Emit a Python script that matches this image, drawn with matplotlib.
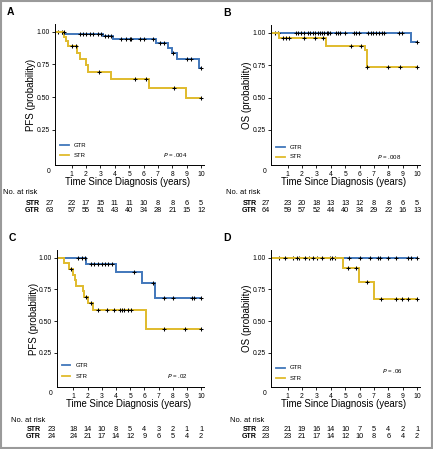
'''Kaplan-Meier curves for GTR vs STR, four panels with numbers at risk'''

import numpy as np
import matplotlib
matplotlib.use('Agg')
import matplotlib.pyplot as plt
from matplotlib.transforms import blended_transform_factory
from matplotlib.patches import Rectangle

plt.rcParams['font.family'] = ['Liberation Sans', 'DejaVu Sans']

blue = '#4177bb'
gold = '#e0bb2c'

# event times and survival after each step, censor times
A_gtr_t = [0, 0.4, 3.2, 3.9, 6.9, 7.7, 7.95, 8.35, 9.85]
A_gtr_s = [1.0, 0.985, 0.97, 0.944, 0.913, 0.875, 0.837, 0.79, 0.726]
A_gtr_c = [0.05, 0.35, 1.56, 1.79, 1.97, 2.25, 2.48, 2.83, 3.06, 3.29, 3.52, 3.75, 4.45, 4.8, 5.03, 5.14, 5.72, 6.02, 6.65, 7.11, 7.41, 8.08, 9.0, 9.31, 10.0]
A_str_t = [0, 0.5, 0.6, 0.75, 1.4, 1.6, 1.97, 2.13, 3.71, 6.37, 8.92]
A_str_s = [1.0, 0.963, 0.926, 0.889, 0.837, 0.795, 0.745, 0.695, 0.64, 0.572, 0.495]
A_str_c = [0.45, 1.0, 1.3, 2.94, 5.44, 6.19, 8.1, 10.0]

B_gtr_t = [0, 9.6]
B_gtr_s = [1.0, 0.932]
B_gtr_c = [0.14, 0.32, 1.57, 1.73, 1.91, 2.14, 2.41, 2.59, 2.77, 2.93, 3.09, 3.27, 3.38, 3.54, 3.72, 3.83, 3.95, 4.35, 4.52, 4.67, 4.97, 5.65, 5.76, 5.94, 6.56, 6.78, 6.94, 7.12, 7.35, 7.53, 7.69, 8.71, 8.94, 10.0]
B_str_t = [0, 0.43, 3.67, 6.35, 6.5]
B_str_s = [1.0, 0.963, 0.9, 0.87, 0.735]
B_str_c = [0.66, 0.88, 1.11, 2.14, 2.93, 3.45, 5.42, 6.1, 6.55, 8.0, 8.8, 10.0]

C_gtr_t = [0, 1.92, 3.98, 5.8, 6.78]
C_gtr_s = [1.0, 0.953, 0.883, 0.8, 0.684]
C_gtr_c = [1.34, 1.62, 1.8, 2.26, 2.49, 2.77, 3.0, 3.23, 3.46, 3.73, 5.25, 6.62, 7.36, 8.05, 9.35, 9.49, 10.0]
C_str_t = [0, 0.36, 0.7, 0.98, 1.11, 1.2, 1.67, 1.74, 2.0, 2.35, 6.1]
C_str_s = [1.0, 0.955, 0.91, 0.864, 0.82, 0.775, 0.736, 0.69, 0.645, 0.587, 0.436]
C_str_c = [0.86, 1.9, 2.26, 2.77, 3.39, 3.87, 4.31, 4.44, 4.56, 4.88, 5.06, 7.4, 8.85, 10.0]

D_gtr_t = [0]
D_gtr_s = [1.0]
D_gtr_c = [0.39, 1.37, 1.82, 2.51, 3.08, 3.92, 4.33, 5.3, 6.0, 6.7, 7.27, 7.39, 7.96, 8.55, 9.4, 9.55, 10.0]
D_str_t = [0, 4.88, 5.93, 7.0]
D_str_s = [1.0, 0.917, 0.806, 0.672]
D_str_c = [0.84, 1.64, 2.21, 2.78, 3.42, 4.1, 5.18, 5.75, 6.5, 7.46, 8.53, 8.98, 9.35, 10.0]

# numbers at risk at years 0..10
A_str_risk = [27, 22, 17, 15, 11, 11, 10, 8, 8, 6, 5]
A_gtr_risk = [63, 57, 55, 51, 43, 40, 34, 28, 21, 15, 12]
B_str_risk = [27, 23, 20, 18, 13, 13, 12, 8, 8, 6, 5]
B_gtr_risk = [64, 59, 57, 52, 44, 40, 34, 29, 22, 16, 13]
C_str_risk = [23, 18, 14, 10, 8, 5, 4, 3, 2, 1, 1]
C_gtr_risk = [24, 24, 21, 17, 14, 12, 9, 6, 5, 4, 2]
D_str_risk = [23, 21, 19, 16, 14, 10, 7, 5, 4, 2, 1]
D_gtr_risk = [23, 23, 21, 17, 14, 12, 10, 8, 6, 4, 2]

W, H = 433., 449.
fig = plt.figure(figsize=(W / 100, H / 100), dpi=100)

def fy(py):
	''' converts a pixel row (from top) to figure fraction '''
	return 1 - py / H

def km(ax, t, s, cens, color, z):
	''' draws one step curve with its censor marks '''
	end = max(cens)
	x = list(t) + [end]
	y = list(s) + [s[-1]]
	ax.plot(x, y, drawstyle='steps-post', color=color, lw=1.4, zorder=z, solid_joinstyle='miter')
	idx = np.searchsorted(t, cens, side='right') - 1
	cy = np.array(s)[idx]
	ax.plot(cens, cy, ls='none', marker='+', ms=3.4, mew=0.75, color='black', zorder=z + 1)

def panel(box, letter, ylab, curves, pval, pxy, legy, risk, riskbox):
	''' box is (left, top, right, bottom) in pixels '''
	l, t, r, b = box
	ax = fig.add_axes([l / W, fy(b), (r - l) / W, (b - t) / H])
	(gt, gs, gc), (st, ss, sc) = curves
	km(ax, gt, gs, gc, blue, 3)
	km(ax, st, ss, sc, gold, 5)
	ax.set_xlim(-0.15, 10.2)
	ax.set_ylim(-0.02, 1.06)
	ax.set_xticks(range(1, 11))
	ax.set_yticks([0.25, 0.5, 0.75, 1.0])
	ax.set_yticklabels(['0.25', '0.50', '0.75', '1.00'])
	ax.tick_params(labelsize=4.9, length=2, width=0.6, pad=2)
	for sp in ['top', 'right']:
		ax.spines[sp].set_visible(False)
	for sp in ['left', 'bottom']:
		ax.spines[sp].set_linewidth(0.7)
	ax.text(-0.6, -0.02, '0', fontsize=4.9, ha='center', va='top', transform=blended_transform_factory(ax.transData, ax.transAxes))
	ax.set_ylabel(ylab, fontsize=7)
	ax.yaxis.set_label_coords(-0.125, 0.5)
	ax.set_xlabel('Time Since Diagnosis (years)', fontsize=6.9)
	ax.xaxis.set_label_coords(0.49, -0.085)
	# legend drawn by hand
	for yy, col, name in [(legy[0], blue, 'GTR'), (legy[1], gold, 'STR')]:
		ax.plot([0.2, 0.8], [yy, yy], color=col, lw=1.3)
		ax.text(1.15, yy, name, fontsize=4.3, va='center')
	ax.text(pxy[0], pxy[1], '$P$ = ' + pval, fontsize=4.4, ha='right', va='center')
	fig.text((l - 48) / W, fy(t - 12), letter, fontsize=7.5, fontweight='bold', va='center')
	# numbers at risk
	nx, labx, y0, y1, y2 = riskbox
	trans = blended_transform_factory(ax.transData, fig.transFigure)
	fig.text(nx / W, fy(y0), 'No. at risk', fontsize=5.4, va='center')
	xs = [-0.5] + list(range(1, 11))
	for yy, name, vals in [(y1, 'STR', risk[0]), (y2, 'GTR', risk[1])]:
		fig.text(labx / W, fy(yy), name, fontsize=5.1, fontweight='bold', ha='right', va='center')
		for x, v in zip(xs, vals):
			ax.text(x, fy(yy), str(v), fontsize=5.3, ha='center', va='center', transform=trans)
	return ax

panel((55, 24, 204, 165), 'A', 'PFS (probability)',
	((A_gtr_t, A_gtr_s, A_gtr_c), (A_str_t, A_str_s, A_str_c)),
	'.004', (9.05, 0.055), (0.13, 0.055), (A_str_risk, A_gtr_risk), (3, 40, 193, 204, 211))
panel((271, 25, 420, 165), 'B', 'OS (probability)',
	((B_gtr_t, B_gtr_s, B_gtr_c), (B_str_t, B_str_s, B_str_c)),
	'.008', (8.9, 0.045), (0.115, 0.045), (B_str_risk, B_gtr_risk), (226, 257, 193, 204, 211))
panel((57, 250, 204, 387), 'C', 'PFS (probability)',
	((C_gtr_t, C_gtr_s, C_gtr_c), (C_str_t, C_str_s, C_str_c)),
	'.02', (9.05, 0.065), (0.15, 0.065), (C_str_risk, C_gtr_risk), (11, 41, 420, 429.5, 436))
panel((271, 250, 420, 387), 'D', 'OS (probability)',
	((D_gtr_t, D_gtr_s, D_gtr_c), (D_str_t, D_str_s, D_str_c)),
	'.06', (9.0, 0.11), (0.13, 0.05), (D_str_risk, D_gtr_risk), (230, 257, 420, 429.5, 436))

# grey frame round the figure
fig.patches.append(Rectangle((0.002, 0.002), 0.996, 0.996, transform=fig.transFigure, fill=False, edgecolor='#9a9a9a', lw=1.5))

fig.savefig('out.png', dpi=100)
